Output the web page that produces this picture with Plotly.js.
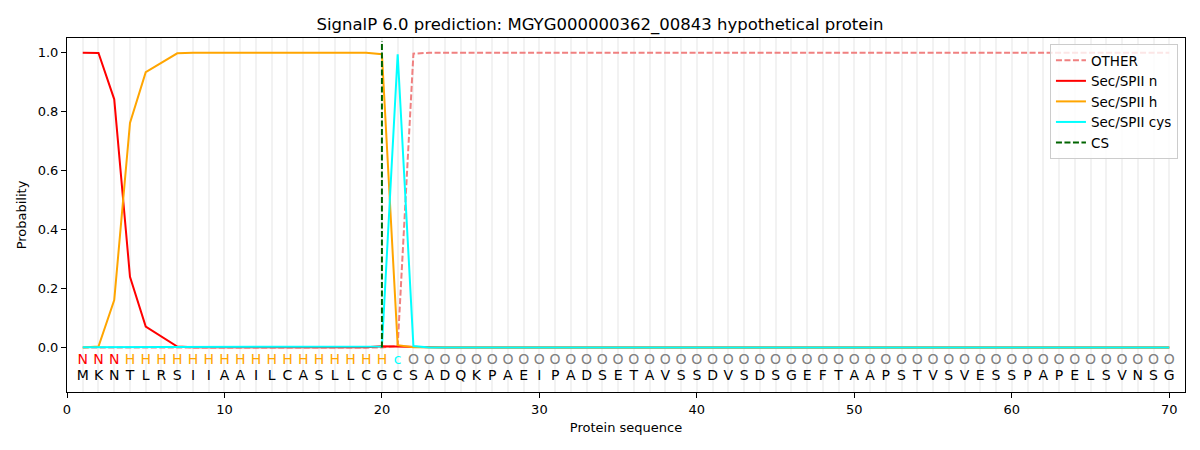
<!DOCTYPE html>
<html>
<head>
<meta charset="utf-8">
<script src="https://cdn.plot.ly/plotly-3.0.1.min.js"></script>
<style>
  body { margin: 0; background: #fff; }
  #chart { width: 1200px; height: 450px; }
</style>
</head>
<body>
<div id="chart"></div>
<script>
// residue sequence and predicted region label per residue
var sequence = "MKNTLRSIIAAILCASLLCGCSADQKPAEIPADSETAVSSDVSDSGEFTAAPSTVSVESSPAPELSVNSG".split("");
var regionLabels = "NNNHHHHHHHHHHHHHHHHHcOOOOOOOOOOOOOOOOOOOOOOOOOOOOOOOOOOOOOOOOOOOOOOOOO".split("");

var otherProb = [0, 0, 0, 0, 0, 0, 0, 0, 0, 0,
                 0, 0, 0, 0, 0, 0, 0, 0, 0, 0,
                 0.005, 0.997, 1, 1, 1, 1, 1, 1, 1, 1,
                 1, 1, 1, 1, 1, 1, 1, 1, 1, 1,
                 1, 1, 1, 1, 1, 1, 1, 1, 1, 1,
                 1, 1, 1, 1, 1, 1, 1, 1, 1, 1,
                 1, 1, 1, 1, 1, 1, 1, 1, 1, 1];
var nProb = [1.0, 0.999, 0.842, 0.24, 0.071, 0.037, 0.003, 0.001, 0.001, 0.001,
             0.001, 0.001, 0.001, 0.001, 0.001, 0.001, 0.001, 0.001, 0.001, 0.004,
             0.003, 0, 0, 0, 0, 0, 0, 0, 0, 0,
             0, 0, 0, 0, 0, 0, 0, 0, 0, 0,
             0, 0, 0, 0, 0, 0, 0, 0, 0, 0,
             0, 0, 0, 0, 0, 0, 0, 0, 0, 0,
             0, 0, 0, 0, 0, 0, 0, 0, 0, 0];
var hProb = [0, 0.003, 0.161, 0.762, 0.934, 0.966, 0.998, 1.0, 1.0, 1.0,
             1.0, 1.0, 1.0, 1.0, 1.0, 1.0, 1.0, 1.0, 1.0, 0.995,
             0.008, 0.001, 0, 0, 0, 0, 0, 0, 0, 0,
             0, 0, 0, 0, 0, 0, 0, 0, 0, 0,
             0, 0, 0, 0, 0, 0, 0, 0, 0, 0,
             0, 0, 0, 0, 0, 0, 0, 0, 0, 0,
             0, 0, 0, 0, 0, 0, 0, 0, 0, 0];
var cysProb = [0.001, 0.001, 0.001, 0.001, 0.001, 0.001, 0.001, 0.001, 0.001, 0.001,
               0.001, 0.001, 0.001, 0.001, 0.001, 0.001, 0.001, 0.001, 0.001, 0.003,
               0.995, 0.005, 0, 0, 0, 0, 0, 0, 0, 0,
               0, 0, 0, 0, 0, 0, 0, 0, 0, 0,
               0, 0, 0, 0, 0, 0, 0, 0, 0, 0,
               0, 0, 0, 0, 0, 0, 0, 0, 0, 0,
               0, 0, 0, 0, 0, 0, 0, 0, 0, 0];
var csX = [20, 20];
var csY = [0, 1.04];

var labelColors = {N: "red", H: "orange", c: "cyan", O: "gray"};

var positions = sequence.map(function (s, i) { return i + 1; });

var font = "DejaVu Sans, sans-serif";
var gridColor = "#f2f2f2";

var traces = [
  {x: positions, y: otherProb, name: "OTHER", mode: "lines",
   line: {color: "#f08080", width: 2, dash: "6px,2.5px"}},
  {x: positions, y: nProb, name: "Sec/SPII n", mode: "lines",
   line: {color: "red", width: 2}},
  {x: positions, y: hProb, name: "Sec/SPII h", mode: "lines",
   line: {color: "orange", width: 2}},
  {x: positions, y: cysProb, name: "Sec/SPII cys", mode: "lines",
   line: {color: "cyan", width: 2}},
  {x: csX, y: csY, name: "CS", mode: "lines",
   line: {color: "darkgreen", width: 2, dash: "6px,2.5px"}},
  // region label row
  {x: positions, y: positions.map(function () { return -0.045; }),
   mode: "text", text: regionLabels, showlegend: false, hoverinfo: "skip",
   textfont: {family: font, size: 14,
              color: regionLabels.map(function (l) { return labelColors[l]; })}},
  // amino acid row
  {x: positions, y: positions.map(function () { return -0.097; }),
   mode: "text", text: sequence, showlegend: false, hoverinfo: "skip",
   textfont: {family: font, size: 14, color: "black"}}
];

var layout = {
  width: 1200, height: 450,
  margin: {l: 67, r: 15, t: 38, b: 58},
  paper_bgcolor: "white", plot_bgcolor: "white",
  font: {family: font, size: 13, color: "black"},
  title: {text: "SignalP 6.0 prediction: MGYG000000362_00843 hypothetical protein",
          font: {family: font, size: 16.5}, x: 0.5, xanchor: "center", y: 0.947, yanchor: "middle"},
  xaxis: {
    range: [0, 71], tickvals: [0, 10, 20, 30, 40, 50, 60, 70],
    ticks: "outside", ticklen: 5, tickcolor: "black",
    showline: true, linecolor: "black", linewidth: 1, mirror: true,
    showgrid: true, gridcolor: gridColor, gridwidth: 2,
    minor: {dtick: 1, tick0: 0, showgrid: true, gridcolor: gridColor, gridwidth: 2},
    zeroline: false,
    title: {text: "Protein sequence", font: {family: font, size: 13}, standoff: 7}
  },
  yaxis: {
    range: [-0.151, 1.05], tickvals: [0, 0.2, 0.4, 0.6, 0.8, 1.0], tickformat: ".1f",
    ticks: "outside", ticklen: 5, tickcolor: "black",
    showline: true, linecolor: "black", linewidth: 1, mirror: true,
    showgrid: false, zeroline: false,
    title: {text: "Probability", font: {family: font, size: 13}, standoff: 8}
  },
  legend: {
    x: 0.9937, y: 0.983, xanchor: "right", yanchor: "top",
    bgcolor: "rgba(255,255,255,0.8)", bordercolor: "#cccccc", borderwidth: 1,
    font: {family: font, size: 13.5}, tracegroupgap: 0
  },
  showlegend: true
};

Plotly.newPlot("chart", traces, layout, {staticPlot: true});
</script>
</body>
</html>
